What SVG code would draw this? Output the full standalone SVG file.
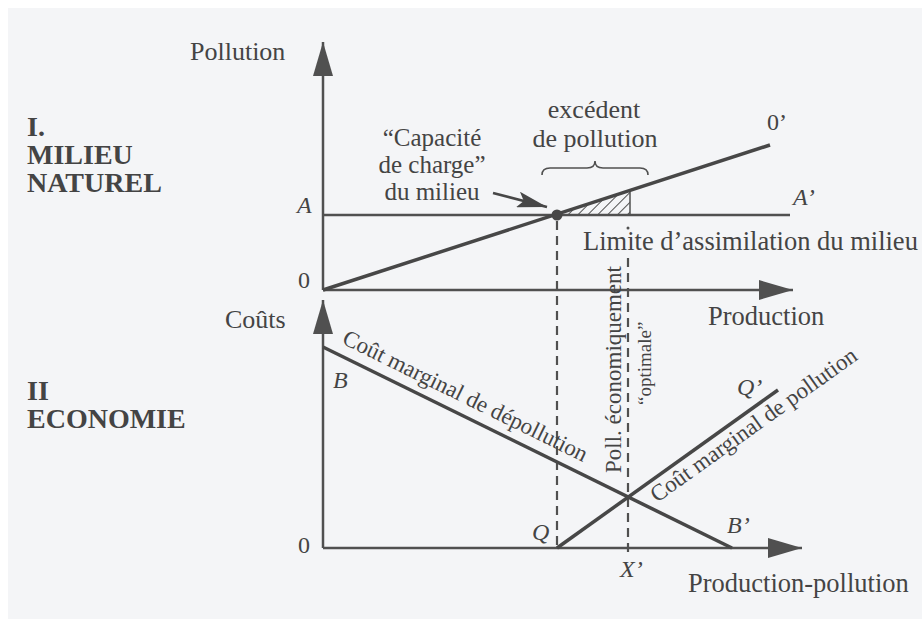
<svg xmlns="http://www.w3.org/2000/svg" width="922" height="619" viewBox="0 0 922 619">
<defs>
<style>
.t{font-family:"Liberation Serif","Times New Roman",serif;fill:#444;font-size:26px}
.b{font-weight:bold;font-size:28px}
.i{font-style:italic;font-size:24px}
.r{font-size:24px}
.s{font-size:23px}
.c{font-size:25px}
.ax{stroke:#505050;stroke-width:2.5;fill:none}
.ln{stroke:#474747;stroke-width:3.5;fill:none}
.da{stroke:#505050;stroke-width:2.2;stroke-dasharray:9 6;fill:none}
</style>
<marker id="ah" markerWidth="34" markerHeight="20" refX="34" refY="10" orient="auto" markerUnits="userSpaceOnUse">
<path d="M0,0 L34,10 L0,20 z" fill="#505050"/>
</marker>
<marker id="sa" markerWidth="30" markerHeight="16" refX="30" refY="8" orient="auto" markerUnits="userSpaceOnUse">
<path d="M0,0 L30,8 L0,16 L6,8 z" fill="#474747"/>
</marker>
<pattern id="hatch" width="7" height="7" patternUnits="userSpaceOnUse" patternTransform="rotate(45)">
<line x1="0" y1="0" x2="0" y2="7" stroke="#505050" stroke-width="2"/>
</pattern>
</defs>
<rect width="922" height="619" fill="#ffffff"/>
<rect x="8" y="8" width="914" height="611" fill="#f4f5f7"/>

<g id="connectors">
<line class="ax" x1="323" y1="290" x2="323" y2="42" marker-end="url(#ah)"/>
<line class="ax" x1="323" y1="290" x2="793" y2="290" marker-end="url(#ah)"/>
<line class="ax" x1="323" y1="548" x2="323" y2="300" marker-end="url(#ah)"/>
<line class="ax" x1="323" y1="548" x2="802" y2="548" marker-end="url(#ah)"/>
<line class="ax" x1="323" y1="215" x2="790" y2="215"/>
<polygon points="557,215 630,215 630,191" fill="url(#hatch)"/>
<line x1="630" y1="191" x2="630" y2="215" stroke="#505050" stroke-width="1.5"/>
<line class="ln" x1="323" y1="290" x2="770" y2="145"/>
<circle cx="557" cy="215" r="5.5" fill="#474747"/>
<line class="da" x1="557" y1="221" x2="557" y2="548"/>
<circle cx="628" cy="228" r="1.5" fill="#505050"/>
<line class="da" x1="628" y1="258" x2="628" y2="558"/>
<line class="ln" x1="323" y1="347" x2="732" y2="548"/>
<line class="ln" x1="557" y1="548" x2="778" y2="390"/>
<line x1="493" y1="193" x2="547" y2="207" stroke="#474747" stroke-width="2.5" marker-end="url(#sa)"/>
<path d="M542,175 Q542,168 550,168 L587,168 Q595,168 595,161 Q595,168 603,168 L640,168 Q648,168 648,175" stroke="#505050" stroke-width="1.6" fill="none"/>
</g>

<g id="labels">
<text class="t" x="190" y="60">Pollution</text>
<text class="t b" x="27" y="136">I.</text>
<text class="t b" x="27" y="164">MILIEU</text>
<text class="t b" x="27" y="192">NATUREL</text>
<text class="t i" x="297" y="213">A</text>
<text class="t r" x="298" y="288">0</text>
<text class="t c" x="432" y="146" text-anchor="middle">“Capacité</text>
<text class="t c" x="432" y="173" text-anchor="middle">de charge”</text>
<text class="t c" x="432" y="200" text-anchor="middle">du milieu</text>
<text class="t" x="594" y="118" text-anchor="middle">excédent</text>
<text class="t" x="595" y="147" text-anchor="middle">de pollution</text>
<text class="t r" x="767" y="130">0’</text>
<text class="t i" x="793" y="205">A’</text>
<text class="t" x="583" y="250" style="font-size:26.5px">Limite d’assimilation du milieu</text>
<text class="t" x="708" y="325" style="font-size:26.5px">Production</text>
<text class="t" x="225" y="328">Coûts</text>
<text class="t b" x="27" y="400">II</text>
<text class="t b" x="27" y="428">ECONOMIE</text>
<text class="t i" x="333" y="388">B</text>
<text class="t r" x="298" y="553">0</text>
<text class="t s" transform="translate(341,343) rotate(26.2)">Coût marginal de dépollution</text>
<text class="t s" transform="translate(657,503) rotate(-35.5)">Coût marginal de pollution</text>
<text class="t s" transform="translate(621,473) rotate(-90)">Poll. économiquement</text>
<text class="t" transform="translate(651,405) rotate(-90)" style="font-size:19px">“optimale”</text>
<text class="t i" x="532" y="540">Q</text>
<text class="t i" x="737" y="395">Q’</text>
<text class="t i" x="727" y="533">B’</text>
<text class="t i" x="620" y="577">X’</text>
<text class="t" x="688" y="592" style="font-size:26.5px">Production-pollution</text>
</g>
</svg>
